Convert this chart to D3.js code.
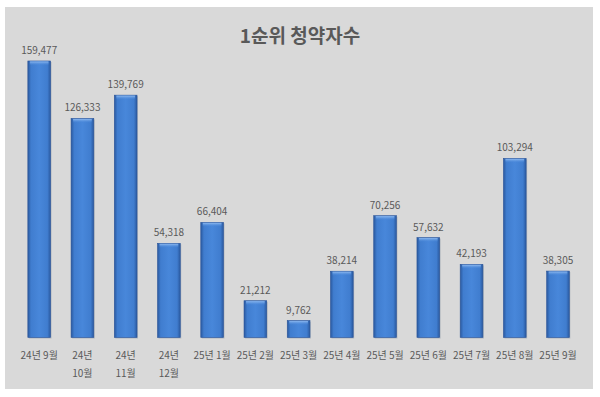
<html>
<head>
<meta charset="utf-8">
<script type="text/javascript" src="https://cdnjs.cloudflare.com/ajax/libs/d3/7.8.5/d3.min.js"></script>
<style>
  body { margin: 0; background: #fff; }
  text { font-family: "Noto Sans CJK KR", "Noto Sans", sans-serif; fill: #595959; }
</style>
</head>
<body>
<div id="chart"></div>
<script type="text/javascript">
// chart data
var months = ["24년 9월", "24년 10월", "24년 11월", "24년 12월", "25년 1월", "25년 2월", "25년 3월",
              "25년 4월", "25년 5월", "25년 6월", "25년 7월", "25년 8월", "25년 9월"];
// how the axis labels wrap in the picture
var monthLines = [["24년 9월"], ["24년", "10월"], ["24년", "11월"], ["24년", "12월"], ["25년 1월"], ["25년 2월"],
                  ["25년 3월"], ["25년 4월"], ["25년 5월"], ["25년 6월"], ["25년 7월"], ["25년 8월"], ["25년 9월"]];
var applicants = [159477, 126333, 139769, 54318, 66404, 21212, 9762, 38214, 70256, 57632, 42193, 103294, 38305];
var title = "1순위 청약자수";

var W = 600, H = 397;
var svg = d3.select("#chart").append("svg")
    .attr("width", W)
    .attr("height", H);

// gray chart area
svg.append("rect")
    .attr("x", 5).attr("y", 7)
    .attr("width", 588).attr("height", 382)
    .attr("fill", "#d9d9d9");

var defs = svg.append("defs");
var grad = defs.append("linearGradient").attr("id", "barGrad")
    .attr("x1", "0%").attr("x2", "100%").attr("y1", "0%").attr("y2", "0%");
grad.append("stop").attr("offset", "0%").attr("stop-color", "#2a599f");
grad.append("stop").attr("offset", "14%").attr("stop-color", "#407dcf");
grad.append("stop").attr("offset", "50%").attr("stop-color", "#4887da");
grad.append("stop").attr("offset", "86%").attr("stop-color", "#407dcf");
grad.append("stop").attr("offset", "100%").attr("stop-color", "#2a599f");

var topGrad = defs.append("linearGradient").attr("id", "topGrad")
    .attr("x1", "0%").attr("x2", "0%").attr("y1", "0%").attr("y2", "100%");
topGrad.append("stop").attr("offset", "0%").attr("stop-color", "#8fbaf0");
topGrad.append("stop").attr("offset", "100%").attr("stop-color", "#4887da").attr("stop-opacity", 0);

var x = d3.scaleBand()
    .domain(months)
    .range([17.6, 579.6])
    .paddingInner(0.475)
    .paddingOuter(0.237);

var y = d3.scaleLinear()
    .domain([0, 180000])
    .range([337.5, 25.4]);

// title
svg.append("text")
    .attr("x", 300).attr("y", 43)
    .attr("text-anchor", "middle")
    .attr("font-size", 19)
    .attr("font-weight", "bold")
    .text(title);

var bars = svg.append("g").selectAll("g")
    .data(applicants)
    .enter().append("g");

// soft shadow
bars.append("rect")
    .attr("x", function(d, i) { return x(months[i]) + 1; })
    .attr("y", function(d) { return y(d) + 1; })
    .attr("width", x.bandwidth())
    .attr("height", function(d) { return y(0) - y(d); })
    .attr("fill", "#9aa3ad")
    .attr("opacity", 0.6);

bars.append("rect")
    .attr("x", function(d, i) { return x(months[i]); })
    .attr("y", function(d) { return y(d); })
    .attr("width", x.bandwidth())
    .attr("height", function(d) { return y(0) - y(d); })
    .attr("fill", "url(#barGrad)")
    .attr("stroke", "#2a5499")
    .attr("stroke-width", 0.6);

// bevel on top
bars.append("rect")
    .attr("x", function(d, i) { return x(months[i]) + 2; })
    .attr("y", function(d) { return y(d) + 0.5; })
    .attr("width", x.bandwidth() - 4)
    .attr("height", 4)
    .attr("fill", "url(#topGrad)");

// value labels
svg.append("g").selectAll("text")
    .data(applicants)
    .enter().append("text")
    .attr("x", function(d, i) { return x(months[i]) + x.bandwidth() / 2; })
    .attr("y", function(d) { return y(d) - 7; })
    .attr("text-anchor", "middle")
    .attr("font-size", 10)
    .text(function(d) { return d3.format(",")(d); });

// category labels
var cats = svg.append("g").selectAll("text")
    .data(monthLines)
    .enter().append("text")
    .attr("text-anchor", "middle")
    .attr("font-size", 10);
cats.selectAll("tspan")
    .data(function(d, i) { return d.map(function(s) { return { s: s, i: i }; }); })
    .enter().append("tspan")
    .attr("x", function(d) { return x(months[d.i]) + x.bandwidth() / 2; })
    .attr("y", function(d, j) { return 359 + j * 18; })
    .text(function(d) { return d.s; });
</script>
</body>
</html>
